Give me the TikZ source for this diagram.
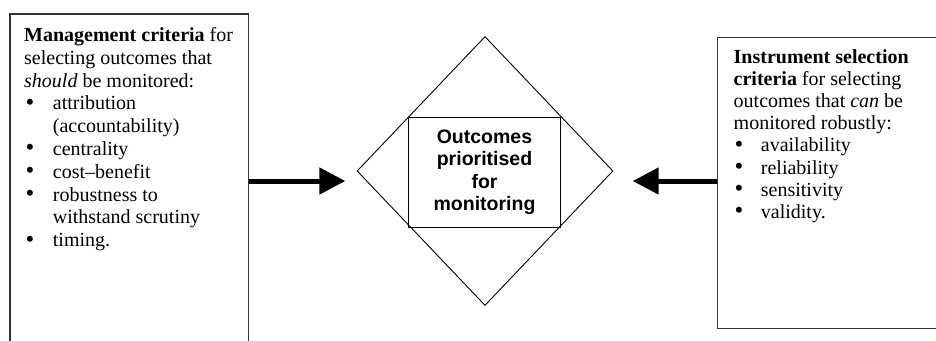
\documentclass[tikz,border=0pt]{standalone}
\usepackage{fontspec}
\setmainfont{Liberation Serif}
\newfontfamily\helvfont{Liberation Sans}
\usetikzlibrary{shapes.geometric,arrows.meta}
\newcommand{\mybigbullet}{\raisebox{-0.3pt}{\scalebox{1.25}{\textbullet}}}
\newcommand{\mybulL}{\makebox[28.7pt][l]{\hspace{1.5pt}\mybigbullet}}
\newcommand{\myindL}{\hspace*{28.7pt}}
\newcommand{\mybulR}{\makebox[27.2pt][l]{\hspace{1pt}\mybigbullet}}
\begin{document}
\begin{tikzpicture}[x=1pt,y=-1pt,
  box/.style={draw=black!80,line width=1.2pt,inner sep=0pt,anchor=north west},
  txt/.style={inner sep=0pt,anchor=north west,align=left},
  bigarrow/.style={line width=5pt,-{Triangle[length=26pt,width=26pt]}}]
\useasboundingbox (0,0) rectangle (936,340);
\clip (0,0) rectangle (936,340);
\node[box,minimum width=238.7pt,minimum height=345pt] (lbox) at (9.3,13.3) {};
\node[box,minimum width=240pt,minimum height=291.3pt] (rbox) at (716.7,36.7) {};
\node[draw,diamond,minimum width=256pt,minimum height=269pt,inner sep=0pt,line width=0.9pt] (dia) at (485,171) {};
\node[draw,rectangle,minimum width=152pt,minimum height=110pt,inner sep=0pt,line width=0.9pt,
  font=\helvfont\bfseries\fontsize{19.5}{22.5}\selectfont,align=center] (core) at (484.5,172.5)
  {Outcomes\\prioritised\\for\\monitoring};
\node[txt,font=\fontsize{20}{22.8}\selectfont] (ltext) at (24,27.3) {\textbf{Management criteria} for\\
selecting outcomes that\\
\textit{should} be monitored:\\
\mybulL attribution\\
\myindL(accountability)\\
\mybulL centrality\\
\mybulL cost–benefit\\
\mybulL robustness to\\
\myindL withstand scrutiny\\
\mybulL timing.};
\node[txt,font=\fontsize{20}{22.2}\selectfont] (rtext) at (733.5,49) {\textbf{Instrument selection}\\
\textbf{criteria} for selecting\\
outcomes that \textit{can} be\\
monitored robustly:\\
\mybulR availability\\
\mybulR reliability\\
\mybulR sensitivity\\
\mybulR validity.};
\coordinate (la) at (345.3,181);
\coordinate (ra) at (632.7,181);
\draw[bigarrow] (lbox.east |- la) -- (la);
\draw[bigarrow] (rbox.west |- ra) -- (ra);
\end{tikzpicture}
\end{document}
